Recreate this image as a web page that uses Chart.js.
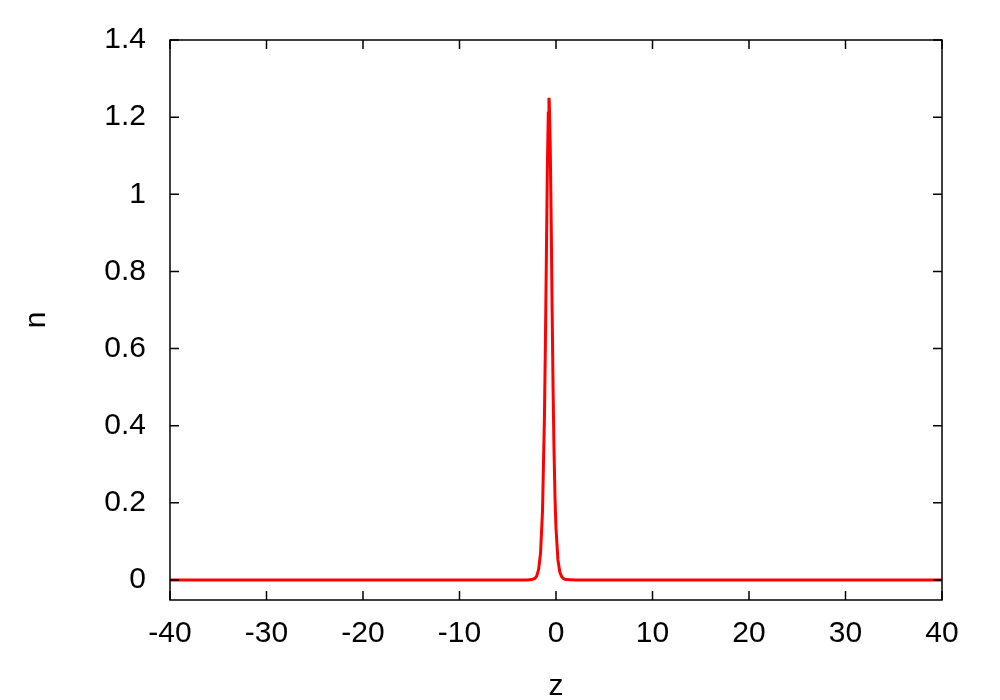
<!DOCTYPE html>
<html>
<head>
<meta charset="utf-8">
<script src="https://cdn.jsdelivr.net/npm/chart.js@4/dist/chart.umd.min.js"></script>
<style>
  body { margin: 0; background: #fff; }
</style>
</head>
<body>
<canvas id="chart" width="1000" height="700"></canvas>
<script>
// density profile n(z)
const zValues = [-40, -10, -4, -3, -2.5, -2.2, -2.0, -1.8, -1.6, -1.4, -1.2, -1.1, -1.0, -0.9, -0.8, -0.73, -0.7, -0.6, -0.5, -0.4, -0.3, -0.2, -0.1, 0, 0.2, 0.4, 0.6, 0.8, 1.0, 2, 4, 10, 40];
const nValues = [0, 0, 0, 0, 0.001, 0.004, 0.010, 0.027, 0.070, 0.177, 0.42, 0.61, 0.83, 1.06, 1.21, 1.25, 1.24, 1.13, 0.93, 0.70, 0.49, 0.33, 0.21, 0.134, 0.052, 0.020, 0.008, 0.003, 0.001, 0, 0, 0, 0];
const xTicks = [-40, -30, -20, -10, 0, 10, 20, 30, 40];
const yTicks = [0, 0.2, 0.4, 0.6, 0.8, 1, 1.2, 1.4];
const yTickLabels = ['0', '0.2', '0.4', '0.6', '0.8', '1', '1.2', '1.4'];

const points = zValues.map((z, i) => ({ x: z, y: nValues[i] }));

// gnuplot style frame with inward ticks on all four sides
const frame = {
    id: 'frame',
    afterDraw(chart) {
        const ctx = chart.ctx;
        const a = chart.chartArea;
        const xs = chart.scales.x, ys = chart.scales.y;
        ctx.save();
        ctx.strokeStyle = '#000';
        ctx.lineWidth = 1.5;
        ctx.strokeRect(a.left, a.top, a.right - a.left, a.bottom - a.top);
        ctx.beginPath();
        xTicks.forEach(v => {
            const px = xs.getPixelForValue(v);
            ctx.moveTo(px, a.bottom); ctx.lineTo(px, a.bottom - 9);
            ctx.moveTo(px, a.top); ctx.lineTo(px, a.top + 9);
        });
        yTicks.forEach(v => {
            const py = ys.getPixelForValue(v);
            ctx.moveTo(a.left, py); ctx.lineTo(a.left + 9, py);
            ctx.moveTo(a.right, py); ctx.lineTo(a.right - 9, py);
        });
        ctx.stroke();
        ctx.restore();
    }
};

const font = { family: '"Liberation Sans", Arial, sans-serif', size: 30 };

new Chart(document.getElementById('chart'), {
    type: 'scatter',
    data: {
        datasets: [{
            data: points,
            showLine: true,
            borderColor: '#ff0000',
            borderWidth: 3,
            pointRadius: 0,
            tension: 0,
            fill: false
        }]
    },
    options: {
        responsive: false,
        animation: false,
        layout: { padding: { top: 40, right: 58, left: 0, bottom: 0 } },
        plugins: { legend: { display: false }, tooltip: { enabled: false } },
        scales: {
            x: {
                type: 'linear',
                min: -40, max: 40,
                afterBuildTicks: s => { s.ticks = xTicks.map(v => ({ value: v })); },
                afterFit: s => { s.height = 100; s.paddingLeft = 0; s.paddingRight = 0; },
                grid: { display: false, drawTicks: false },
                border: { display: false },
                ticks: { color: '#000', font: font, padding: 16, maxRotation: 0 },
                title: { display: true, text: 'z', color: '#000', font: { family: font.family, size: 30, lineHeight: 0.9 }, padding: 0 }
            },
            y: {
                type: 'linear',
                min: -0.052, max: 1.4,
                afterBuildTicks: s => { s.ticks = yTicks.map(v => ({ value: v })); },
                afterFit: s => { s.width = 170; s.paddingTop = 0; s.paddingBottom = 0; },
                grid: { display: false, drawTicks: false },
                border: { display: false },
                ticks: {
                    color: '#000', font: font, padding: 24,
                    callback: v => yTickLabels[yTicks.indexOf(v)]
                },
                title: { display: true, text: 'n', color: '#000', font: font, padding: { top: 19, bottom: 19 } }
            }
        }
    },
    plugins: [frame]
});
</script>
</body>
</html>
